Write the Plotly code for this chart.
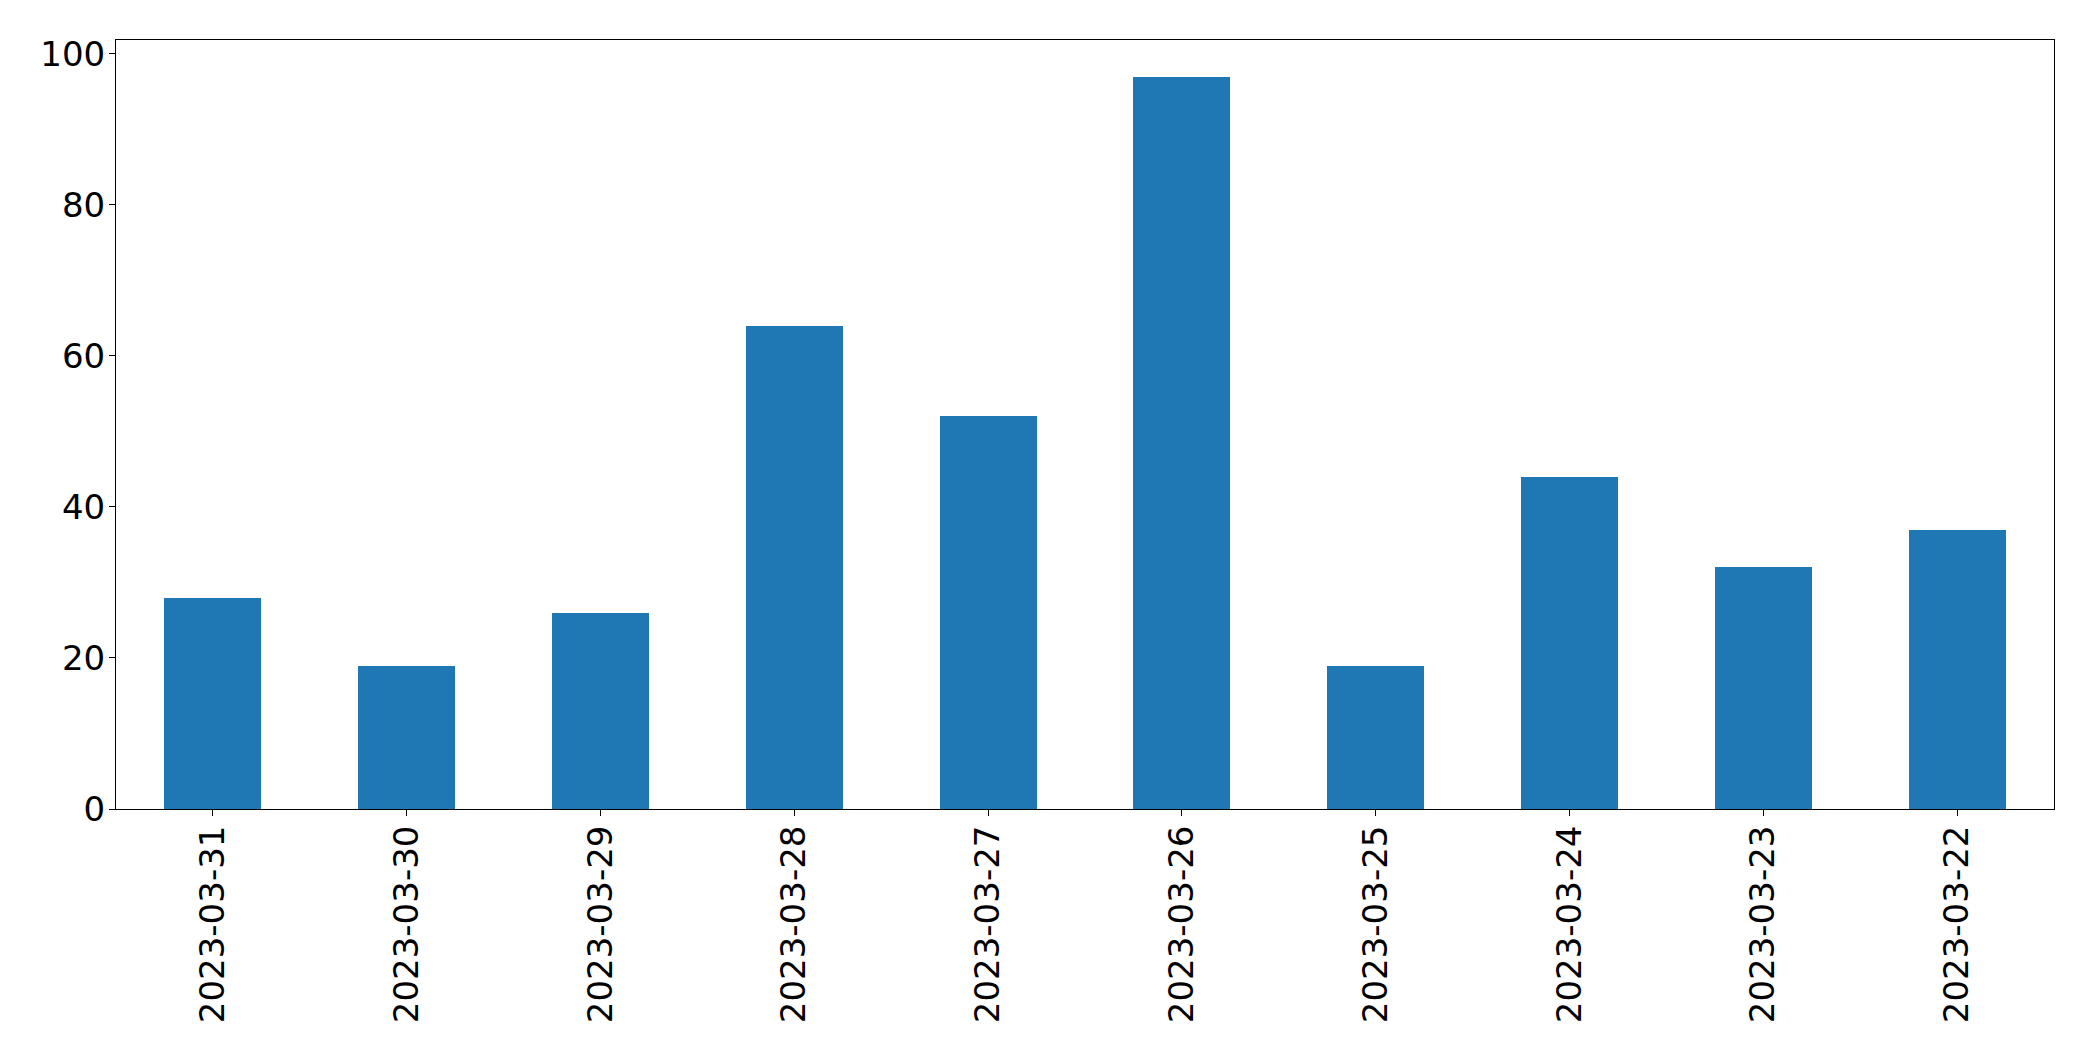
import plotly.graph_objects as go

categories = ["2023-03-31", "2023-03-30", "2023-03-29", "2023-03-28", "2023-03-27",
              "2023-03-26", "2023-03-25", "2023-03-24", "2023-03-23", "2023-03-22"]
values = [28, 19, 26, 64, 52, 97, 19, 44, 32, 37]
y_ticks = [0, 20, 40, 60, 80, 100]

positions = list(range(len(categories)))

fig = go.Figure(
    go.Bar(x=positions, y=values, width=0.5, marker=dict(color="#1f77b4", line=dict(width=0)))
)

axis_common = dict(
    showline=True, linecolor="black", linewidth=1, mirror=True,
    ticks="outside", ticklen=6, tickwidth=1, tickcolor="black",
    showgrid=False, zeroline=False,
    tickfont=dict(family="DejaVu Sans", size=34, color="black"),
)

fig.update_layout(
    width=2093, height=1061,
    margin=dict(l=116, r=39, t=40, b=252),
    paper_bgcolor="white", plot_bgcolor="white",
    showlegend=False,
    bargap=0,
    xaxis=dict(range=[-0.5, len(categories) - 0.5], tickmode="array",
               tickvals=positions, ticktext=categories, tickangle=-90,
               ticklabelstandoff=-4, **axis_common),
    yaxis=dict(range=[0, max(values) * 1.05], tickmode="array", tickvals=y_ticks,
               ticklabelstandoff=-3, **axis_common),
)

fig.write_html("out.html", config={"displayModeBar": False},
               post_script="document.body.style.margin='0';document.body.style.overflow='hidden';")
